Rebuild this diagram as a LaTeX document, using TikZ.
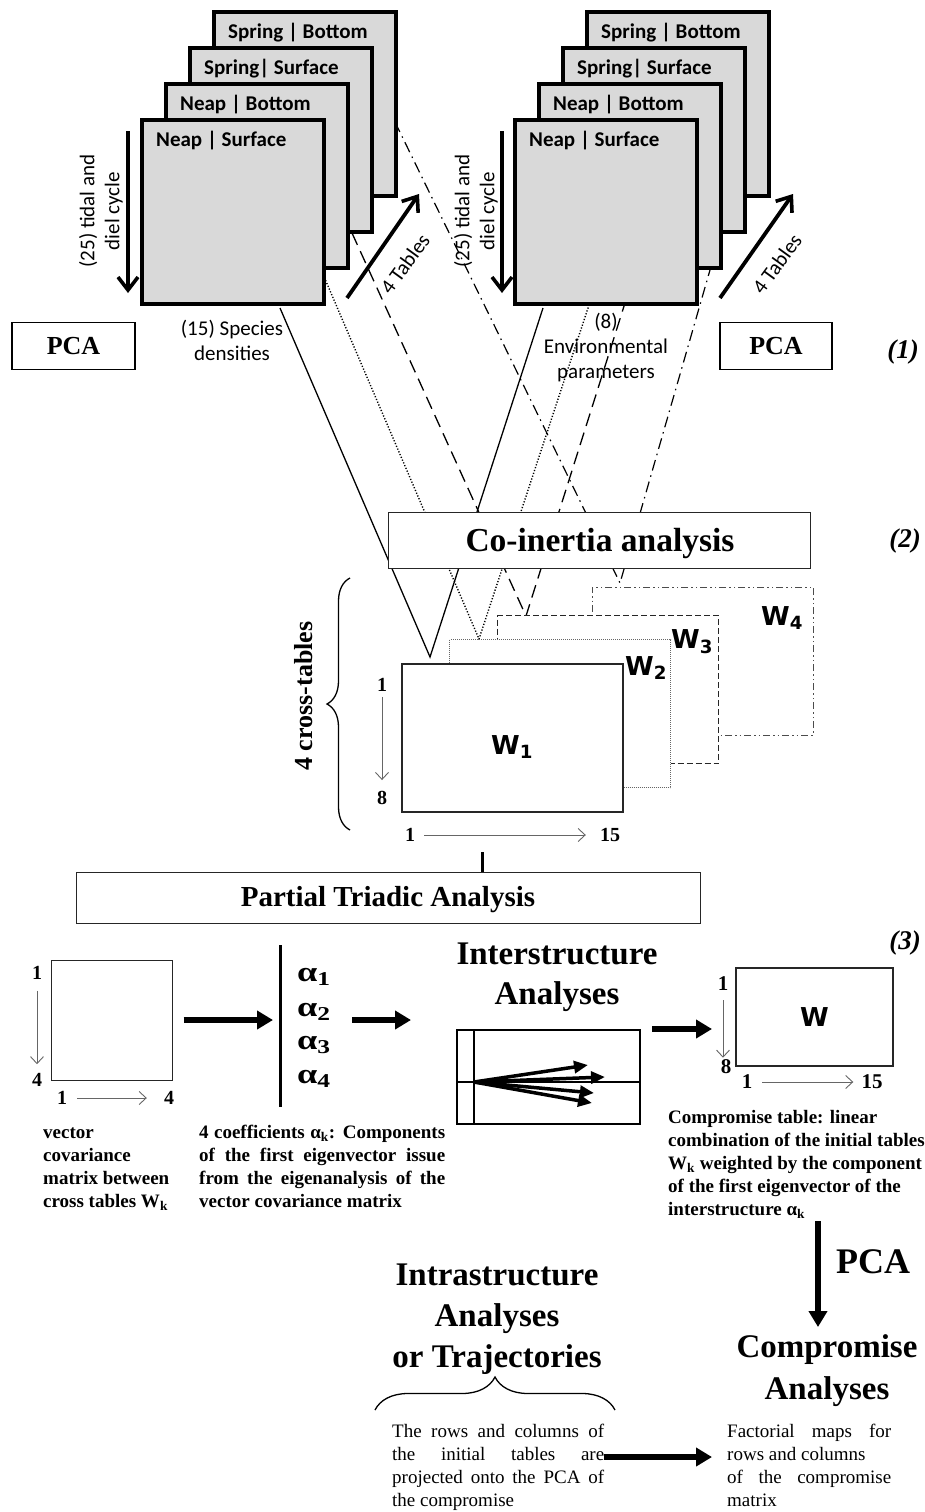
\documentclass[tikz,border=0pt]{standalone}
\usepackage{fontspec}
\setmainfont{Liberation Serif}
\newfontfamily\carlito{Carlito}
\newfontfamily\dejavu{DejaVu Sans}
\usetikzlibrary{arrows.meta,decorations.pathreplacing,calc}
\definecolor{cardgray}{RGB}{217,217,217}
\newcommand\fsz[2]{\fontsize{#1}{#2}\selectfont}
\pgfdeclarelayer{back}
\pgfsetlayers{back,main}

\tikzset{
  card/.style={draw=black, line width=3.6pt, fill=cardgray, inner sep=0pt,
    minimum width=182pt, minimum height=184pt, anchor=north west},
  cardtitle/.style={anchor=west, inner sep=0pt, font=\carlito\bfseries\fsz{21}{24}},
  sidenote/.style={font=\carlito\fsz{21}{25}, inner sep=0pt, align=center},
  heavyarrow/.style={line width=3.8pt, -{Straight Barb[length=13pt,width=20pt,line width=3.6pt]}},
  pcabox/.style={draw=black, line width=1.6pt, minimum height=47pt, inner sep=0pt, font=\bfseries\fsz{26}{30}},
  framebox/.style={draw=black!85, line width=1pt, fill=white, inner sep=0pt},
  heading/.style={font=\bfseries\fsz{33}{40}, align=center, inner sep=0pt},
  tag/.style={font=\bfseries\itshape\fsz{27}{30}, inner sep=0pt},
  num/.style={font=\bfseries\fsz{20}{24}, inner sep=1pt},
  bignum/.style={font=\bfseries\fsz{21}{24}, inner sep=1pt},
  thinarrow/.style={draw=black!60, line width=0.9pt, -{Straight Barb[length=7pt,width=13pt]}},
  fatarrow/.style={line width=6pt, -{Triangle[length=16pt,width=18pt]}},
  vecarrow/.style={line width=3.5pt, -{Triangle[length=14pt,width=12pt]}},
  wlabel/.style={font=\dejavu\bfseries\fsz{26}{30}, inner sep=0pt},
  coA/.style={line width=1.3pt},
  coB/.style={line width=1.4pt, dash pattern=on 1.2pt off 1.8pt},
  coC/.style={line width=1.3pt, dash pattern=on 13pt off 7pt},
  coD/.style={line width=1.2pt, dash pattern=on 11pt off 5pt on 1.5pt off 5pt},
  desc/.style={anchor=north west, inner sep=0pt, align=left, font=\bfseries\fsz{19}{23}},
  descr/.style={anchor=north west, inner sep=0pt, align=left, font=\fsz{19}{23}},
  alpha/.style={font=\bfseries\fsz{28}{30}, inner sep=0pt, xscale=1.3},
}

\begin{document}
\begin{tikzpicture}[x=1pt,y=-1pt]
\begin{pgfonlayer}{back}
  \fill[white] (0,0) rectangle (925,1512);
\end{pgfonlayer}
\useasboundingbox (0,0) rectangle (925,1512);

% ---------- (1) two stacks of four tables ----------
\foreach \k/\lab in {3/{Spring | Bottom},2/{Spring| Surface},1/{Neap | Bottom},0/{Neap | Surface}}{
  \node[card] (l\k) at ({140+24*\k},{118-36*\k}) {};
  \node[cardtitle] (lt\k) at ($(l\k.north west)+(16,23)$) {\lab};
  \node[card] (r\k) at ({513+24*\k},{118-36*\k}) {};
  \node[cardtitle] (rt\k) at ($(r\k.north west)+(16,23)$) {\lab};
}

% row direction and table count arrows, left stack
\coordinate (lda) at (128,131); \coordinate (ldb) at (128,293);
\draw[heavyarrow] (lda) -- (ldb);
\node[sidenote, rotate=90] (lcyc) at (101,211) {(25) tidal and\\diel cycle};
\coordinate (lta) at (347,298); \coordinate (ltb) at (419,194);
\draw[heavyarrow] (lta) -- (ltb);
\node[sidenote, rotate=54] (ltl) at (405,264) {4 Tables};

% same for the right stack
\coordinate (rda) at (502,131); \coordinate (rdb) at (502,293);
\draw[heavyarrow] (rda) -- (rdb);
\node[sidenote, rotate=90] (rcyc) at (476,211) {(25) tidal and\\diel cycle};
\coordinate (rta) at (720,298); \coordinate (rtb) at (793,194);
\draw[heavyarrow] (rta) -- (rtb);
\node[sidenote, rotate=54] (rtl) at (777,264) {4 Tables};

\node[sidenote] (spec) at (232,340) {(15) Species\\densities};
\node[sidenote] (env) at (606,348) {(8)\\Environmental\\parameters};

\node[pcabox, minimum width=123pt] (pcal) at (73.5,346) {PCA};
\node[pcabox, minimum width=112pt] (pcar) at (776,346) {PCA};
\node[tag] (tag1) at (903,352) {(1)};

% ---------- (2) co-inertia and the four cross-tables ----------
\node[framebox, draw=black!70, dash pattern=on 7pt off 3pt on 1.5pt off 3pt on 1.5pt off 3pt,
      minimum width=221pt, minimum height=148pt] (w4) at (702.5,661) {};
\node[framebox, dash pattern=on 6pt off 3pt, minimum width=221pt, minimum height=148pt] (w3) at (608,689.5) {};
\node[framebox, draw=black!60, dash pattern=on 1pt off 1pt, minimum width=221pt, minimum height=148pt] (w2) at (560,713.5) {};
\node[framebox, line width=1.2pt, minimum width=221pt, minimum height=148pt] (w1) at (512.5,738) {};

\node[wlabel] (w1l) at (512,747) {W\textsubscript{1}};
\node[wlabel] (w2l) at (646,668) {W\textsubscript{2}};
\node[wlabel] (w3l) at (692,642) {W\textsubscript{3}};
\node[wlabel] (w4l) at (782,618) {W\textsubscript{4}};

\node[framebox, minimum width=422pt, minimum height=56pt] (coin) at (599,540) {};
\node[font=\bfseries\fsz{33.5}{40}, inner sep=0pt] (cointxt) at (600,543) {Co-inertia analysis};
\node[tag] (tag2) at (905,541) {(2)};

% where the paired lines leave the stacks and meet on each cross-table
\coordinate (lsA) at (280,308); \coordinate (rsA) at (543,308);
\coordinate (lsB) at (322,272); \coordinate (rsB) at (590,302);
\coordinate (lsC) at (352,233); \coordinate (rsC) at (625,303);
\coordinate (lsD) at (395,122); \coordinate (rsD) at (710,270);
\coordinate (w1tip) at (430,657);
\coordinate (w2tip) at (479,639);
\coordinate (w3tip) at (526,616);
\coordinate (w4tip) at (620,583);
\begin{pgfonlayer}{back}
  \draw[coA] (lsA) -- (w1tip) -- (rsA);
  \draw[coB] (lsB) -- (w2tip) -- (rsB);
  \draw[coC] (lsC) -- (w3tip) -- (rsC);
  \draw[coD] (lsD) -- (w4tip) -- (rsD);
\end{pgfonlayer}

\coordinate (brt) at (350,578); \coordinate (brb) at (350,830);
\draw[decorate, decoration={brace, amplitude=23pt}, line width=1.3pt] (brb) -- (brt);
\node[rotate=90, font=\bfseries\fsz{26}{30}, inner sep=0pt] (xtab) at (304,696) {4 cross-tables};

\node[num] (r1) at (382,685) {1};
\node[num] (r8) at (382,798) {8};
\draw[thinarrow, shorten <=4pt, shorten >=10pt] (r1) -- (r8);
\node[num] (c1) at (410,835) {1};
\node[num] (c15) at (610,835) {15};
\draw[thinarrow, shorten <=8pt, shorten >=13pt] (c1) -- (c15);

% ---------- (3) partial triadic analysis ----------
\node[framebox, minimum width=624pt, minimum height=51pt] (pta) at (388,897.5) {};
\node[font=\bfseries\fsz{29}{34}, inner sep=0pt] (ptatxt) at (388,900) {Partial Triadic Analysis};
\coordinate (tick) at (482,852);
\draw[line width=3pt] (tick) -- (tick |- pta.north);
\node[tag] (tag3) at (905,943) {(3)};

% vector covariance matrix
\node[framebox, minimum width=121pt, minimum height=120pt] (vcm) at (111.5,1020) {};
\node[num] (vr1) at (37,973) {1};
\node[num] (vr4) at (37,1080) {4};
\draw[thinarrow, shorten <=10pt, shorten >=8pt] (vr1) -- (vr4);
\node[num] (vc1) at (62,1098) {1};
\node[num] (vc4) at (169,1098) {4};
\draw[thinarrow, shorten <=9pt, shorten >=16pt] (vc1) -- (vc4);

% coefficients
\coordinate (abt) at (280,945); \coordinate (abb) at (280,1107);
\draw[line width=3pt] (abt) -- (abb);
\draw[fatarrow, shorten <=11pt, shorten >=7pt] (vcm.east) -- (vcm.east -| abt);
\foreach \i/\yy in {1/977,2/1012,3/1045,4/1079}
  \node[alpha] (al\i) at (314,\yy) {α\textsubscript{\i}};
\coordinate (ina) at (352,1020); \coordinate (inb) at (411,1020);
\draw[fatarrow] (ina) -- (inb);

% interstructure
\node[heading, anchor=north] (inter) at (557,943) {Interstructure\\Analyses};
\node[framebox, draw=black, line width=1.6pt, minimum width=183pt, minimum height=94pt] (ibox) at (548.5,1077) {};
\coordinate (io) at (474,1082);
\draw[line width=1.6pt] (ibox.north -| io) -- (ibox.south -| io);
\draw[line width=1.6pt] (ibox.west |- io) -- (ibox.east |- io);
\foreach \j/\ex/\ey in {1/588/1065,2/605/1077,3/594/1093,4/592/1103}{
  \coordinate (ie\j) at (\ex,\ey);
  \draw[vecarrow] (io) -- (ie\j);
}
\coordinate (wa) at (652,1029); \coordinate (wb) at (712,1029);
\draw[fatarrow] (wa) -- (wb);

% compromise table
\node[framebox, line width=1.2pt, minimum width=157pt, minimum height=98pt, font=\dejavu\bfseries\fsz{26}{30}] (wbox) at (814.5,1017) {W};
\node[bignum] (wr1) at (723,984) {1};
\node[bignum] (wr8) at (726,1067) {8};
\draw[thinarrow, shorten <=8pt, shorten >=1pt] (wr1) -- (wr1 |- wr8.north);
\node[bignum] (wc1) at (747,1082) {1};
\node[bignum] (wc15) at (872,1082) {15};
\draw[thinarrow, shorten <=9pt, shorten >=7pt] (wc1) -- (wc15);

\node[desc] (vcd) at (43,1122) {\strut vector\\covariance\\matrix between\\cross tables W\textsubscript{k}};
\node[desc] (cfd) at (199,1122) {\strut\makebox[246pt][s]{4 coefficients α\textsubscript{k}: Components}\\
  \makebox[246pt][s]{of the first eigenvector issue}\\
  \makebox[246pt][s]{from the eigenanalysis of the}\\
  vector covariance matrix};
\node[desc] (ctab) at (668,1107) {\strut Compromise table: linear\\combination of the initial tables\\W\textsubscript{k} weighted by the component\\of the first eigenvector of the\\interstructure α\textsubscript{k}};

% compromise analyses
\coordinate (pcs) at (818,1221);
\node[heading, anchor=north, font=\bfseries\fsz{33}{42}] (comp) at (827,1334) {Compromise\\Analyses};
\draw[fatarrow, shorten >=7pt] (pcs) -- (pcs |- comp.north);
\node[font=\bfseries\fsz{36}{40}, inner sep=0pt] (pcab) at (873,1262) {PCA};

% intrastructure
\node[heading, anchor=north, font=\bfseries\fsz{33}{41}] (intra) at (497,1264) {Intrastructure\\Analyses\\or Trajectories};
\coordinate (bl) at (375,1410); \coordinate (br) at (615,1410);
\draw[decorate, decoration={brace, amplitude=33pt}, line width=1.3pt] (bl) -- (br);

\node[descr] (proj) at (392,1421) {\strut\makebox[212pt][s]{The rows and columns of}\\
  \makebox[212pt][s]{the initial tables are}\\
  \makebox[212pt][s]{projected onto the PCA of}\\
  the compromise};
\node[descr] (fact) at (727,1421) {\strut\makebox[164pt][s]{Factorial maps for}\\
  rows and columns\\
  \makebox[164pt][s]{of the compromise}\\
  matrix};
\coordinate (pa) at (604,1457); \coordinate (pb) at (712,1457);
\draw[fatarrow] (pa) -- (pb);
\end{tikzpicture}
\end{document}
